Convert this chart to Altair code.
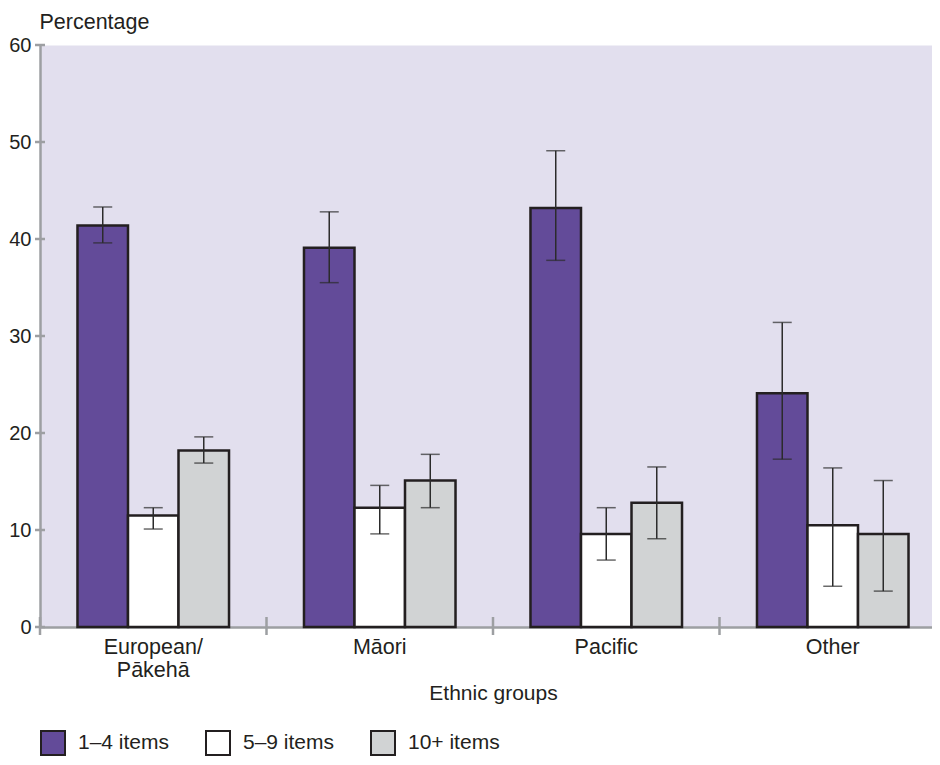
import altair as alt
import pandas as pd

# ---- data ----
categories = ["European/Pākehā", "Māori", "Pacific", "Other"]
series = ["1–4 items", "5–9 items", "10+ items"]

values_1_4 = [41.4, 39.1, 43.2, 24.1]
low_1_4 = [39.6, 35.5, 37.8, 17.3]
high_1_4 = [43.3, 42.8, 49.1, 31.4]

values_5_9 = [11.5, 12.3, 9.6, 10.5]
low_5_9 = [10.1, 9.6, 6.9, 4.2]
high_5_9 = [12.3, 14.6, 12.3, 16.4]

values_10 = [18.2, 15.1, 12.8, 9.6]
low_10 = [16.9, 12.3, 9.1, 3.7]
high_10 = [19.6, 17.8, 16.5, 15.1]

y_ticks = [0, 10, 20, 30, 40, 50, 60]
colors = ["#634b99", "#ffffff", "#d1d3d4"]

# ---- build tables ----
rows = []
for s, vals, lo, hi in zip(series,
                           [values_1_4, values_5_9, values_10],
                           [low_1_4, low_5_9, low_10],
                           [high_1_4, high_5_9, high_10]):
    for c, v, l, h in zip(categories, vals, lo, hi):
        rows.append({"cat": c, "series": s, "value": v, "lo": l, "hi": h})
df = pd.DataFrame(rows)
cat_df = pd.DataFrame({"cat": categories})
tick_df = pd.DataFrame({"v": y_ticks})

W, H = 906, 582
DARK = "#231f20"
AXIS = "#9d9fa2"
FONT = "Liberation Sans"

x_scale = alt.Scale(domain=categories, paddingInner=0, paddingOuter=0)
y_scale = alt.Scale(domain=[0, 60], nice=False)
off_scale = alt.Scale(domain=series, paddingInner=0, paddingOuter=0.742)

x_enc = alt.X(
    "cat:N", sort=categories, scale=x_scale,
    axis=alt.Axis(
        title="Ethnic groups", labelAngle=0, ticks=False,
        domainColor=AXIS, domainWidth=2.5,
        labelFontSize=21.5, labelColor=DARK, labelPadding=9, labelLineHeight=23,
        labelExpr="datum.value == 'European/Pākehā' ? ['European/', 'Pākehā'] : datum.label",
        titleFontSize=21, titleFontWeight="normal", titleColor=DARK, titlePadding=2,
    ),
)
y_enc = alt.Y(
    "value:Q", scale=y_scale,
    axis=alt.Axis(
        values=y_ticks, grid=False, ticks=False,
        domainColor=AXIS, domainWidth=2.5,
        labelFontSize=20, labelColor=DARK, labelPadding=9,
        title="Percentage", titleAngle=0, titleAlign="left", titleBaseline="alphabetic",
        titleX=-1, titleY=-17, titleFontSize=21.5, titleFontWeight="normal", titleColor=DARK,
    ),
)
off_enc = alt.XOffset("series:N", sort=series, scale=off_scale)

bars = alt.Chart(df).mark_bar(stroke=DARK, strokeWidth=2.5).encode(
    x=x_enc,
    xOffset=off_enc,
    y=y_enc,
    color=alt.Color(
        "series:N", sort=series,
        scale=alt.Scale(domain=series, range=colors),
        title=None,
        legend=alt.Legend(
            orient="none", legendX=0, legendY=685, direction="horizontal",
            symbolType="square", symbolSize=576, symbolStrokeColor=DARK,
            symbolStrokeWidth=2, symbolOpacity=1, labelFontSize=21, labelColor=DARK,
            labelOffset=12, columnPadding=32, padding=0,
        ),
    ),
)

err = alt.Chart(df).mark_rule(color="#2b2b2b", strokeWidth=1.5).encode(
    x=alt.X("cat:N", sort=categories, scale=x_scale),
    xOffset=off_enc,
    y=alt.Y("lo:Q", scale=y_scale),
    y2="hi:Q",
)
cap_lo = alt.Chart(df).mark_tick(color="#2b2b2b", thickness=1.5, size=19, orient="horizontal").encode(
    x=alt.X("cat:N", sort=categories, scale=x_scale),
    xOffset=off_enc,
    y=alt.Y("lo:Q", scale=y_scale),
)
cap_hi = alt.Chart(df).mark_tick(color="#2b2b2b", thickness=1.5, size=19, orient="horizontal").encode(
    x=alt.X("cat:N", sort=categories, scale=x_scale),
    xOffset=off_enc,
    y=alt.Y("hi:Q", scale=y_scale),
)

x_ticks = alt.Chart(cat_df).mark_rule(color=AXIS, strokeWidth=2.5).encode(
    x=alt.X("cat:N", sort=categories, scale=x_scale, bandPosition=0),
    y=alt.value(H - 10),
    y2=alt.value(H + 8),
)
y_tick_marks = alt.Chart(tick_df).mark_rule(color=AXIS, strokeWidth=2.5).encode(
    y=alt.Y("v:Q", scale=y_scale),
    x=alt.value(-5),
    x2=alt.value(5),
)

# canvas kept inside the 940x765 window: the plot runs past the right edge and is clipped there
chart = alt.layer(bars, err, cap_lo, cap_hi, x_ticks, y_tick_marks).properties(
    width=W, height=H,
    autosize=alt.AutoSizeParams(type="none"),
    padding={"left": 32, "top": 37, "right": -14, "bottom": 130},
).configure(font=FONT).configure_view(fill="#e2dfee", strokeOpacity=0)

chart.save("out.html", embed_options={"renderer": "svg", "actions": False})
